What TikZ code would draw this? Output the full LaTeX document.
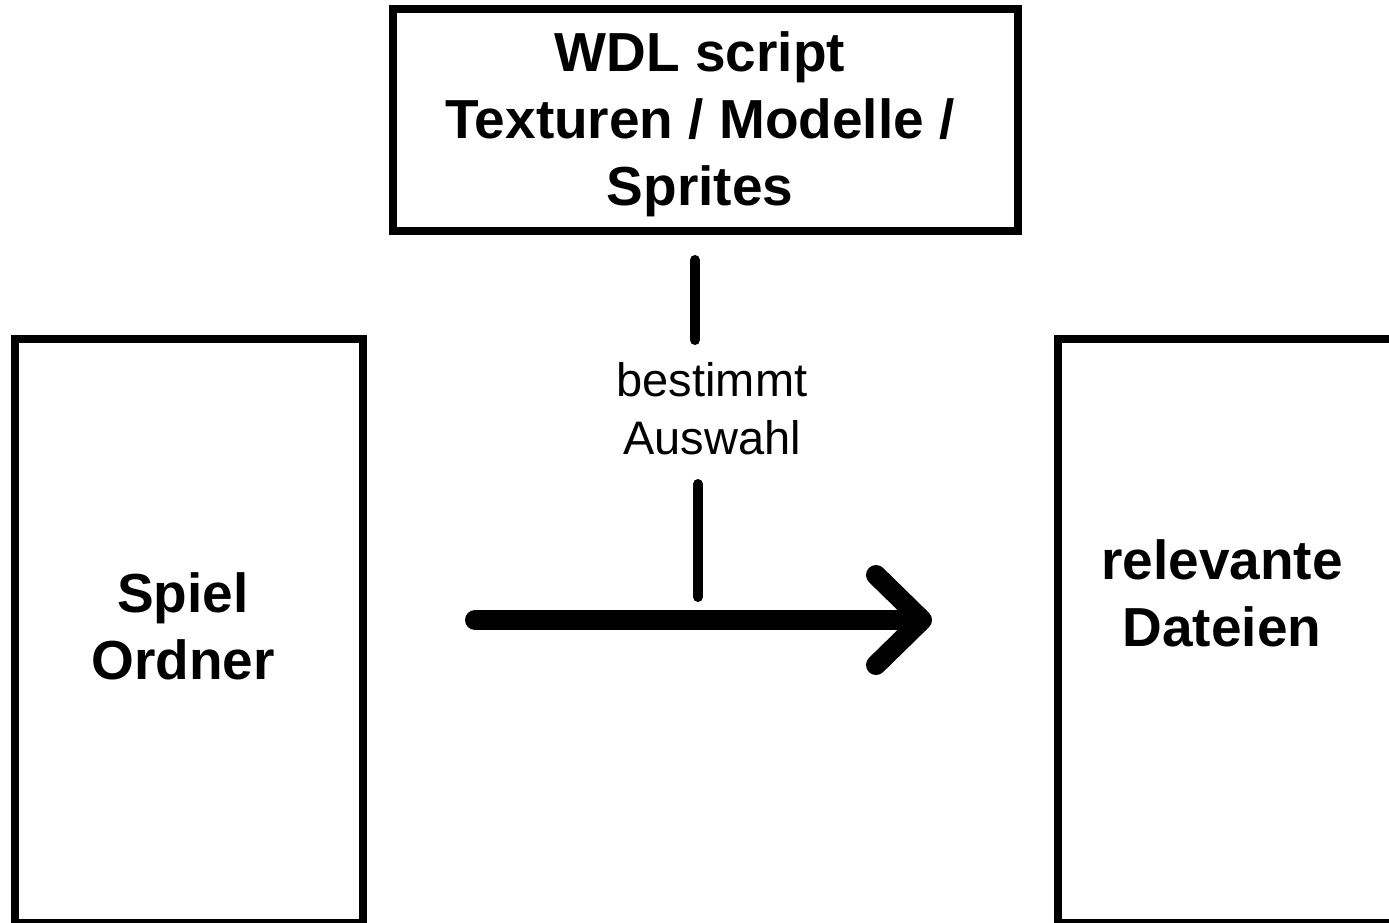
\documentclass[tikz,border=0pt]{standalone}
\usepackage{fontspec}
\setmainfont{Liberation Sans}
\usetikzlibrary{arrows.meta}
\begin{document}
\begin{tikzpicture}[x=1pt,y=-1pt,
  box/.style={draw=black, line width=8pt, inner sep=0pt},
  boxtext/.style={font=\bfseries\fontsize{55}{67}\selectfont, align=center, inner sep=0pt},
  labeltext/.style={font=\fontsize{47}{58}\selectfont, align=center, inner sep=0pt},
  stem/.style={line width=10pt, line cap=round},
  flow/.style={line width=20pt, line cap=round,
    -{Straight Barb[length=46pt, width=90pt, round]}}]
\useasboundingbox (0,0) rectangle (1389,922);
\fill[white] (0,0) rectangle (1389,922);
\begin{scope}
  \clip (0,0) rectangle (1389,922);
  % source box: the script
  \node[box, minimum width=625pt, minimum height=222pt] (wdl) at (705.5,120) {};
  \node[boxtext] (wdltext) at (700,124) {WDL script\\Texturen / Modelle /\\Sprites};
  % game folder
  \node[box, minimum width=348pt, minimum height=584.5pt] (spiel) at (189,630.75) {};
  \node[boxtext] (spieltext) at (183,626) {Spiel\\Ordner};
  % selected files
  \node[box, minimum width=400pt, minimum height=584pt] (dateien) at (1257.5,631) {};
  \node[boxtext] (dateientext) at (1222,593) {relevante\\Dateien};
  % selection label between the two stems
  \node[labeltext] (auswahl) at (712,409) {bestimmt\\Auswahl};
  \coordinate (stemA) at (695,260);
  \coordinate (stemB) at (695,340);
  \coordinate (stemC) at (698,484);
  \coordinate (stemD) at (698,597);
  \draw[stem] (stemA) -- (stemB);
  \draw[stem] (stemC) -- (stemD);
  % main flow arrow
  \coordinate (src) at (475,620);
  \coordinate (dst) at (932,620);
  \draw[flow] (src) -- (dst);
\end{scope}
\end{tikzpicture}
\end{document}
